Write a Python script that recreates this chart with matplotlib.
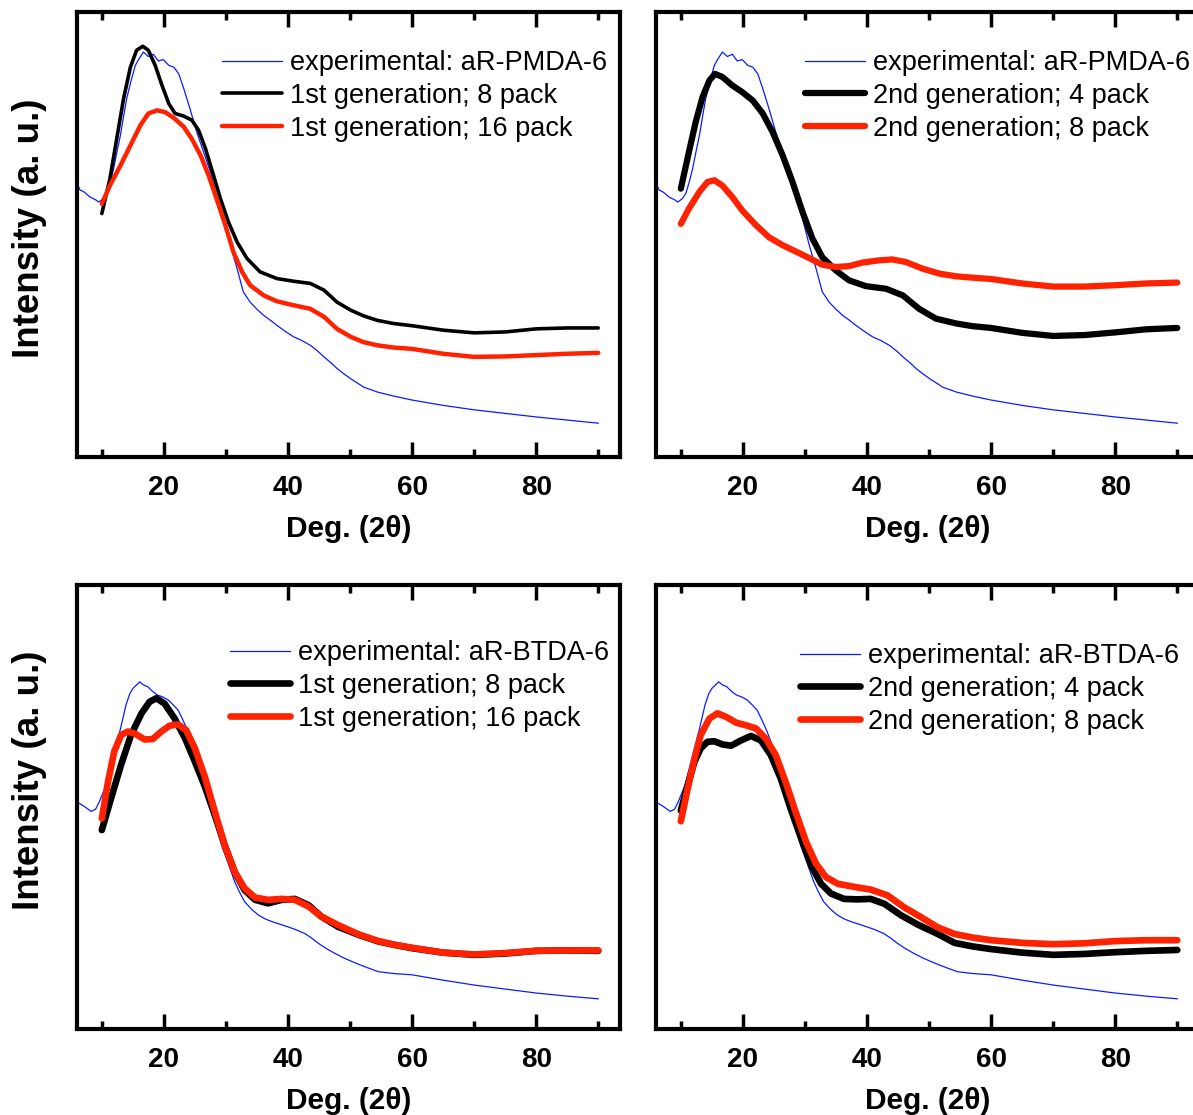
import matplotlib
matplotlib.use("Agg")
import matplotlib.pyplot as plt

plt.rcParams['font.family'] = ['Liberation Sans', 'DejaVu Sans']

# ---------------- data ----------------
pmda_x = [6.0, 6.5, 7.2, 8.1, 9.0, 9.5, 10.2, 10.8, 11.4, 11.9, 12.5, 13.0, 13.5, 14.0, 14.7, 15.4,
          16.0, 16.7, 17.5, 18.3, 19.1, 19.9, 20.8, 21.6, 22.4, 23.2, 24.2, 25.3, 26.4, 27.5, 28.5,
          29.6, 30.7, 31.8, 32.8, 33.9, 35.0, 36.1, 37.2, 38.2, 39.5, 40.9, 42.2, 43.6, 44.7, 45.8,
          46.9, 47.9, 49.0, 50.1, 52.2, 54.4, 57, 60, 65, 70, 75, 80, 85, 90]
pmda_y = [0.615, 0.60, 0.595, 0.584, 0.578, 0.573, 0.58, 0.592, 0.62, 0.648, 0.69, 0.723, 0.765, 0.805,
          0.845, 0.88, 0.895, 0.91, 0.90, 0.905, 0.89, 0.893, 0.88, 0.876, 0.861, 0.828, 0.783, 0.73,
          0.685, 0.64, 0.588, 0.536, 0.476, 0.423, 0.371, 0.348, 0.332, 0.318, 0.307, 0.296, 0.283,
          0.27, 0.262, 0.251, 0.239, 0.225, 0.212, 0.199, 0.187, 0.176, 0.157, 0.146, 0.137, 0.128,
          0.116, 0.106, 0.098, 0.09, 0.083, 0.076]

btda_x = [6.0, 6.4, 7.3, 8.3, 9.0, 9.6, 10.7, 11.8, 12.9, 13.9, 14.5, 15.0, 15.6, 16.1, 16.7, 17.4,
          18.2, 19.0, 19.8, 20.7, 21.5, 22.3, 23.1, 23.9, 24.7, 25.5, 26.3, 27.1, 27.9, 28.7, 29.4,
          30.1, 30.8, 31.4, 32.2, 33.0, 34.1, 35.2, 36.3, 37.4, 38.7, 40.0, 41.4, 42.7, 43.8, 44.9,
          46.2, 47.6, 49.0, 50.3, 51.7, 53.0, 54.6, 57, 60, 65, 70, 75, 80, 85, 90]
btda_y = [0.51, 0.508, 0.50, 0.49, 0.495, 0.512, 0.55, 0.61, 0.67, 0.73, 0.755, 0.767, 0.775, 0.782,
          0.775, 0.771, 0.76, 0.752, 0.748, 0.741, 0.73, 0.718, 0.695, 0.67, 0.64, 0.61, 0.578, 0.542,
          0.495, 0.444, 0.41, 0.384, 0.356, 0.332, 0.308, 0.287, 0.27, 0.257, 0.248, 0.242, 0.236,
          0.23, 0.223, 0.215, 0.205, 0.193, 0.181, 0.17, 0.16, 0.152, 0.144, 0.137, 0.129, 0.125,
          0.122, 0.11, 0.099, 0.09, 0.081, 0.074, 0.068]

g1_8_pmda_x = [10, 11.3, 12.4, 13.5, 14.6, 15.6, 16.6, 17.5, 18.6, 19.7, 20.8, 21.8, 23.2, 24.5, 25.6,
               26.7, 28.0, 29.1, 30.4, 31.8, 33.4, 35.5, 38.2, 40.9, 43.6, 45.8, 47.9, 50.1, 52.2,
               54.4, 57, 60, 65, 70, 75, 80, 85, 90]
g1_8_pmda_y = [0.547, 0.625, 0.715, 0.805, 0.876, 0.914, 0.923, 0.914, 0.88, 0.835, 0.794, 0.772,
               0.766, 0.757, 0.734, 0.693, 0.633, 0.581, 0.528, 0.483, 0.446, 0.416, 0.401, 0.395,
               0.39, 0.375, 0.348, 0.33, 0.317, 0.307, 0.30, 0.295, 0.285, 0.279, 0.281, 0.288,
               0.29, 0.29]

g1_16_pmda_x = [10, 11.3, 13.0, 14.6, 16.2, 17.5, 18.9, 20.2, 21.6, 23.2, 24.5, 25.9, 27.2, 28.5,
                29.9, 31.2, 32.6, 33.9, 36.1, 38.2, 40.9, 43.6, 45.8, 47.9, 50.1, 52.2, 54.4, 57,
                60, 65, 70, 75, 80, 85, 90]
g1_16_pmda_y = [0.569, 0.61, 0.655, 0.70, 0.745, 0.772, 0.779, 0.775, 0.762, 0.742, 0.715, 0.678,
                0.633, 0.58, 0.521, 0.461, 0.416, 0.386, 0.363, 0.35, 0.341, 0.333, 0.315, 0.288,
                0.27, 0.258, 0.251, 0.246, 0.243, 0.232, 0.225, 0.226, 0.229, 0.232, 0.234]

g2_4_pmda_x = [10, 11.3, 12.4, 13.5, 14.6, 15.5, 16.7, 18.3, 19.9, 21.6, 23.2, 24.8, 26.4, 28.0,
               29.6, 31.2, 32.8, 35.0, 37.1, 39.8, 43.1, 45.8, 48.4, 51.1, 54.4, 57, 60, 65, 70,
               75, 80, 85, 90]
g2_4_pmda_y = [0.603, 0.685, 0.753, 0.809, 0.846, 0.861, 0.854, 0.835, 0.82, 0.801, 0.772, 0.73,
               0.678, 0.618, 0.551, 0.491, 0.449, 0.419, 0.397, 0.384, 0.378, 0.363, 0.333, 0.311,
               0.30, 0.294, 0.29, 0.279, 0.272, 0.274, 0.28, 0.287, 0.29]

g2_8_pmda_x = [10, 11.3, 13.0, 14.3, 15.4, 16.7, 18.3, 19.9, 22.1, 24.2, 26.4, 28.5, 30.7, 32.8,
               35.0, 37.1, 39.3, 42.0, 44.1, 46.3, 49.0, 51.7, 54.4, 57, 60, 65, 70, 75, 80, 85, 90]
g2_8_pmda_y = [0.524, 0.558, 0.596, 0.618, 0.622, 0.61, 0.584, 0.554, 0.521, 0.494, 0.476, 0.462,
               0.447, 0.432, 0.427, 0.429, 0.437, 0.442, 0.444, 0.438, 0.423, 0.412, 0.406, 0.403,
               0.40, 0.39, 0.383, 0.383, 0.386, 0.39, 0.392]

g1_8_btda_x = [10, 11.5, 13.1, 14.7, 16.4, 17.7, 18.8, 20.1, 21.7, 23.4, 25.0, 26.6, 28.2, 29.8,
               31.4, 33.0, 34.7, 36.8, 39.0, 41.1, 43.3, 45.4, 48.1, 51.4, 54.6, 57, 60, 65, 70,
               75, 80, 85, 90]
g1_8_btda_y = [0.448, 0.52, 0.595, 0.662, 0.711, 0.737, 0.745, 0.733, 0.70, 0.655, 0.602, 0.546,
               0.482, 0.414, 0.354, 0.313, 0.291, 0.283, 0.291, 0.293, 0.279, 0.253, 0.23, 0.212,
               0.197, 0.19, 0.182, 0.172, 0.167, 0.17, 0.176, 0.177, 0.176]

g1_16_btda_x = [10, 11.0, 12.0, 13.1, 14.2, 15.5, 16.9, 18.2, 19.6, 20.9, 22.3, 23.6, 25.0, 26.6,
                28.2, 29.8, 31.4, 33.0, 34.7, 36.8, 39.0, 41.1, 43.3, 45.4, 48.1, 51.4, 54.6, 57,
                60, 65, 70, 75, 80, 85, 90]
g1_16_btda_y = [0.474, 0.557, 0.625, 0.662, 0.67, 0.664, 0.652, 0.653, 0.67, 0.683, 0.686, 0.673,
                0.632, 0.568, 0.49, 0.414, 0.354, 0.317, 0.296, 0.291, 0.293, 0.291, 0.276, 0.253,
                0.234, 0.213, 0.198, 0.19, 0.183, 0.172, 0.168, 0.171, 0.176, 0.177, 0.177]

g2_4_btda_x = [10, 11.1, 12.2, 13.2, 14.3, 15.4, 16.7, 18.1, 19.7, 21.3, 22.9, 24.5, 26.1, 27.7,
               29.4, 31.0, 32.6, 34.2, 36.3, 38.5, 40.6, 42.8, 45.5, 48.2, 51.4, 54.1, 57, 60, 65,
               70, 75, 80, 85, 90]
g2_4_btda_y = [0.492, 0.549, 0.602, 0.632, 0.647, 0.648, 0.641, 0.638, 0.65, 0.66, 0.65, 0.617,
               0.564, 0.496, 0.429, 0.368, 0.327, 0.305, 0.293, 0.292, 0.293, 0.282, 0.256, 0.235,
               0.214, 0.194, 0.186, 0.18, 0.172, 0.167, 0.169, 0.173, 0.176, 0.178]

g2_8_btda_x = [10, 11.1, 12.2, 13.2, 14.6, 15.9, 17.3, 18.9, 20.5, 22.1, 23.7, 25.3, 26.9, 28.5,
               30.2, 31.8, 33.4, 35.3, 38.0, 40.6, 43.3, 46.0, 48.7, 51.4, 54.1, 57, 60, 65, 70,
               75, 80, 85, 90]
g2_8_btda_y = [0.468, 0.541, 0.609, 0.662, 0.699, 0.711, 0.703, 0.69, 0.684, 0.677, 0.654, 0.617,
               0.556, 0.489, 0.421, 0.372, 0.342, 0.327, 0.32, 0.314, 0.301, 0.274, 0.252, 0.229,
               0.214, 0.206, 0.2, 0.194, 0.191, 0.193, 0.198, 0.2, 0.2]

major_ticks = [20, 40, 60, 80]
minor_ticks = [10, 30, 50, 70, 90]
xlabel_text = 'Deg. (2\u03b8)'
ylabel_text = 'Intensity (a. u.)'

BLUE = '#0a1cff'
BLACK = '#000000'
RED = '#ff2200'

W, H = 1193, 1115
fig = plt.figure(figsize=(W / 100, H / 100), dpi=100)

def px_axes(l, t, r, b):
    return fig.add_axes([l / W, 1 - b / H, (r - l) / W, (b - t) / H])

panels = [
    dict(box=(77, 12, 620, 457), exp=(pmda_x, pmda_y, 'experimental: aR-PMDA-6'),
         s1=(g1_8_pmda_x, g1_8_pmda_y, '1st generation; 8 pack', 2.6),
         s2=(g1_16_pmda_x, g1_16_pmda_y, '1st generation; 16 pack', 3.2),
         leg=(222, 50), ylabel=228),
    dict(box=(656, 12, 1199, 457), exp=(pmda_x, pmda_y, 'experimental: aR-PMDA-6'),
         s1=(g2_4_pmda_x, g2_4_pmda_y, '2nd generation; 4 pack', 4.5),
         s2=(g2_8_pmda_x, g2_8_pmda_y, '2nd generation; 8 pack', 4.5),
         leg=(805, 50), ylabel=None),
    dict(box=(77, 585, 620, 1029), exp=(btda_x, btda_y, 'experimental: aR-BTDA-6'),
         s1=(g1_8_btda_x, g1_8_btda_y, '1st generation; 8 pack', 4.8),
         s2=(g1_16_btda_x, g1_16_btda_y, '1st generation; 16 pack', 4.8),
         leg=(230, 640), ylabel=780),
    dict(box=(656, 585, 1199, 1029), exp=(btda_x, btda_y, 'experimental: aR-BTDA-6'),
         s1=(g2_4_btda_x, g2_4_btda_y, '2nd generation; 4 pack', 4.8),
         s2=(g2_8_btda_x, g2_8_btda_y, '2nd generation; 8 pack', 4.8),
         leg=(800, 643), ylabel=None),
]

for p in panels:
    l, t, r, b = p['box']
    ax = px_axes(l, t, r, b)
    ex, ey, elab = p['exp']
    ax.plot(ex, ey, color=BLUE, lw=0.9, label=elab)
    x1, y1, lab1, lw = p['s1']
    ax.plot(x1, y1, color=BLACK, lw=lw, label=lab1, solid_joinstyle='round', solid_capstyle='round')
    x2, y2, lab2, lw2 = p['s2']
    ax.plot(x2, y2, color=RED, lw=lw2, label=lab2, solid_joinstyle='round', solid_capstyle='round')
    ax.set_xlim(6.0, 93.5)
    ax.set_ylim(0, 1)
    ax.set_xticks(major_ticks)
    ax.set_xticks(minor_ticks, minor=True)
    ax.set_xticklabels([str(v) for v in major_ticks], fontsize=20, fontweight='bold')
    ax.set_yticks([])
    ax.tick_params(axis='x', which='major', direction='in', length=11, width=2.5,
                   top=True, bottom=True, pad=13)
    ax.tick_params(axis='x', which='minor', direction='in', length=6, width=2.5,
                   top=True, bottom=True)
    for sp in ax.spines.values():
        sp.set_linewidth(3)
    ax.set_xlabel(xlabel_text, fontsize=21.5, fontweight='bold', labelpad=10)
    if p['ylabel'] is not None:
        ax.set_ylabel(ylabel_text, fontsize=26.5, fontweight='bold')
        ax.yaxis.set_label_coords((47 - l) / (r - l), (b - p['ylabel']) / (b - t))
    lx, ly = p['leg']
    ax.legend(loc='upper left',
              bbox_to_anchor=((lx - l) / (r - l), (b - ly) / (b - t)),
              frameon=False, fontsize=19.5, borderpad=0, borderaxespad=0,
              handlelength=2.2, handletextpad=0.3, labelspacing=0.25)

fig.savefig('out.png', dpi=100)
